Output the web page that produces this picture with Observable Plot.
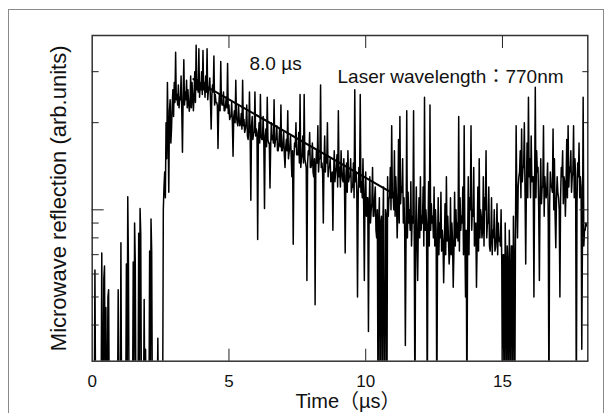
<!DOCTYPE html>
<html>
<head>
<meta charset="utf-8">
<script src="https://cdn.jsdelivr.net/npm/d3@7"></script>
<script src="https://cdn.jsdelivr.net/npm/@observablehq/plot@0.6"></script>
<style>
  html, body { margin: 0; padding: 0; background: #fff; }
  #wrap { position: relative; width: 614px; height: 413px; overflow: hidden; }
  #border { position: absolute; left: 8px; top: 9px; width: 596px; height: 420px; border: 1px solid #8a8a8a; box-sizing: border-box; }
  #chart { position: absolute; left: 0; top: 0; }
</style>
</head>
<body>
<div id="wrap"><div id="border"></div><div id="chart"></div></div>
<script>
// ---- data ----
const sampleInterval = 0.025; // µs between samples
// samples at t = k*0.05 µs
const reflectionEven = [
  0.2, 0.2, 0.62, 0.2, 0.2, 0.2, 0.2, 0.71, 0.2, 0.64,
  0.46, 0.2, 0.53, 0.2, 0.2, 0.2, 0.2, 0.2, 0.2, 0.53,
  0.2, 0.77, 0.2, 0.2, 0.2, 0.65, 1.11, 0.2, 0.2, 0.2,
  0.66, 0.90, 0.2, 0.2, 0.83, 1.01, 0.2, 0.2, 0.49, 0.33,
  0.2, 0.2, 0.72, 0.93, 0.2, 0.2, 0.2, 0.2, 0.36, 0.2,
  0.2, 0.2, 1.0, 1.35, 2.0, 2.75, 1.15, 2.4, 1.9, 2.6,
  2.75, 3.5, 2.5, 2.7, 2.45, 2.9, 1.58, 3.3, 2.55, 2.8,
  2.6, 2.19, 2.9, 2.75, 2.2, 3.0, 3.7, 2.8, 3.6, 2.7,
  3.0, 3.55, 2.75, 2.9, 3.6, 2.6, 2.85, 1.9, 2.7, 3.4,
  2.5, 2.35, 1.63, 2.5, 3.25, 2.3, 2.55, 2.2, 2.45, 3.2,
  2.3, 2.1, 2.35, 1.53, 2.2, 2.8, 2.0, 2.3, 1.95, 2.15,
  2.8, 2.05, 1.9, 2.3, 1.75, 2.55, 1.08, 2.1, 1.85, 2.55,
  1.9, 0.79, 2.0, 2.5, 1.75, 2.1, 1.01, 1.9, 2.45, 1.7,
  1.19, 2.0, 1.8, 2.4, 1.75, 1.95, 1.6, 1.9, 2.3, 1.6,
  1.85, 1.4, 1.75, 2.2, 1.58, 1.8, 1.3, 0.76, 1.7, 2.0,
  1.55, 1.85, 2.5, 1.5, 1.8, 2.5, 1.45, 0.57, 1.6, 1.85,
  1.4, 1.7, 1.3, 0.47, 1.6, 1.95, 1.5, 2.7, 1.45, 0.9,
  1.8, 1.55, 2.0, 1.4, 1.5, 1.3, 0.85, 1.6, 1.35, 1.55,
  2.2, 1.4, 1.6, 1.27, 1.5, 0.71, 1.45, 1.6, 1.3, 1.5,
  1.2, 1.45, 2.6, 1.35, 0.50, 1.4, 2.5, 1.25, 1.5, 0.57,
  1.35, 1.1, 0.38, 1.3, 1.0, 1.4, 0.95, 1.2, 0.8, 0.2,
  1.1, 0.9, 0.2, 1.2, 0.2, 0.95, 1.3, 1.1, 1.4, 1.95,
  1.15, 1.6, 1.3, 0.8, 1.75, 2.1, 1.2, 1.5, 1.1, 0.34,
  2.2, 1.15, 1.0, 1.25, 0.95, 2.2, 0.2, 1.2, 0.57, 1.1,
  1.3, 0.95, 1.2, 2.45, 1.0, 0.2, 1.25, 2.3, 1.05, 0.95,
  1.2, 1.0, 0.2, 1.1, 0.9, 1.15, 0.85, 0.56, 1.05, 1.3,
  0.95, 0.65, 1.1, 0.9, 0.54, 1.15, 1.0, 0.9, 2.1, 1.1,
  0.95, 1.2, 1.95, 0.5, 0.2, 1.3, 1.1, 1.95, 1.0, 1.4,
  0.85, 0.54, 1.2, 1.5, 1.0, 0.8, 1.3, 1.1, 1.6, 0.9,
  1.2, 0.72, 1.1, 0.85, 1.0, 0.74, 1.05, 0.9, 0.8, 1.0,
  0.2, 0.7, 0.9, 0.2, 0.65, 0.85, 0.2, 0.75, 0.95, 0.2,
  1.95, 0.8, 1.3, 1.6, 1.9, 1.4, 2.0, 0.65, 1.7, 2.45,
  1.5, 1.8, 1.3, 0.5, 2.65, 1.6, 1.4, 0.57, 1.5, 1.2,
  1.95, 1.3, 1.1, 1.45, 0.2, 1.35, 1.2, 1.9, 1.5, 0.74,
  1.3, 1.1, 0.5, 1.4, 1.6, 1.3, 0.95, 1.75, 1.95, 1.4,
  1.6, 1.3, 1.95, 1.5, 0.2, 1.45, 1.7, 1.3, 0.33, 2.45,
  0.85, 0.9
];
// samples at t = k*0.05 + 0.025 µs
const reflectionOdd = [
  0.2, 0.2, 0.2, 0.2, 0.2, 0.2, 0.2, 0.2, 0.58, 0.2,
  0.2, 0.5, 0.2, 0.2, 0.2, 0.2, 0.2, 0.2, 0.2, 0.2,
  0.2, 0.2, 0.2, 0.2, 0.2, 0.2, 0.65, 0.2, 0.2, 0.2,
  0.2, 0.66, 0.2, 0.2, 0.2, 0.83, 0.2, 0.2, 0.2, 0.2,
  0.2, 0.2, 0.2, 0.72, 0.2, 0.2, 0.2, 0.2, 0.2, 0.2,
  0.2, 0.2, 1.2, 1.1, 1.5, 1.9, 2.2, 1.7, 2.3, 2.1,
  2.35, 2.4, 2.3, 2.25, 2.4, 2.2, 2.45, 2.3, 2.4, 2.25,
  2.35, 2.3, 2.25, 2.45, 2.5, 2.35, 2.6, 2.55, 2.45, 2.6,
  2.5, 2.6, 2.45, 2.55, 2.4, 2.6, 2.35, 2.5, 2.55, 2.3,
  2.35, 2.3, 2.25, 2.2, 2.35, 2.3, 2.2, 2.3, 2.25, 2.15,
  2.05, 2.1, 2.0, 2.1, 2.0, 2.1, 1.95, 2.05, 2.0, 1.9,
  1.95, 1.85, 2.0, 1.8, 1.9, 1.8, 1.95, 1.75, 1.85, 1.8,
  1.85, 1.75, 1.7, 1.8, 1.75, 1.7, 1.8, 1.65, 1.75, 1.7,
  1.65, 1.75, 1.7, 1.65, 1.75, 1.6, 1.7, 1.65, 1.6, 1.7,
  1.55, 1.65, 1.6, 1.5, 1.65, 1.55, 1.6, 1.5, 1.65, 1.55,
  1.55, 1.45, 1.4, 1.55, 1.45, 1.5, 1.4, 1.45, 1.55, 1.4,
  1.45, 1.35, 1.5, 1.4, 1.45, 1.35, 1.5, 1.4, 1.35, 1.45,
  1.35, 1.45, 1.3, 1.4, 1.25, 1.35, 1.3, 1.25, 1.4, 1.2,
  1.3, 1.2, 1.35, 1.25, 1.2, 1.3, 1.15, 1.25, 1.3, 1.15,
  1.2, 1.1, 1.25, 1.15, 1.1, 1.2, 1.15, 1.1, 1.05, 1.15,
  0.95, 1.1, 1.0, 0.9, 1.05, 0.95, 1.1, 0.85, 1.0, 0.9,
  0.2, 0.95, 0.85, 0.2, 1.0, 0.2, 0.95, 1.1, 1.0, 1.1,
  1.0, 0.95, 1.1, 1.0, 0.9, 1.05, 1.15, 0.9, 0.85, 0.8,
  0.8, 0.9, 0.85, 0.75, 0.9, 0.8, 0.85, 0.75, 0.9, 0.8,
  0.85, 0.9, 0.75, 0.85, 0.9, 0.8, 0.75, 0.85, 0.9, 0.8,
  0.75, 0.85, 0.72, 0.7, 0.8, 0.72, 0.78, 0.75, 0.7, 0.78,
  0.8, 0.72, 0.7, 0.78, 0.72, 0.75, 0.8, 0.78, 0.72, 0.85,
  0.9, 0.7, 0.8, 0.85, 0.75, 0.7, 1.0, 0.85, 0.95, 0.75,
  0.9, 0.78, 0.72, 0.8, 0.95, 0.85, 0.75, 1.0, 0.8, 0.9,
  0.75, 0.8, 0.7, 0.8, 0.72, 0.8, 0.7, 0.78, 0.75, 0.65,
  0.7, 0.2, 0.62, 0.75, 0.2, 0.6, 0.75, 0.2, 0.65, 0.8,
  1.1, 1.2, 1.35, 1.1, 1.25, 1.4, 1.15, 1.2, 1.1, 1.3,
  1.1, 1.25, 1.3, 1.2, 1.1, 1.35, 1.0, 1.15, 1.05, 1.2,
  0.95, 1.15, 1.2, 0.9, 1.05, 1.2, 1.15, 1.0, 0.95, 1.1,
  1.15, 1.0, 1.1, 1.3, 1.05, 1.25, 1.2, 1.1, 1.2, 1.35,
  1.15, 1.35, 1.1, 1.3, 1.05, 1.3, 1.1, 1.2, 0.8, 0.75,
  0.85, 0.88
];
// exponential fit (τ = 8.0 µs): straight on the log axis, endpoints
const fitTime = [3.7, 10.85];
const fitValue = [2.83, 1.16];

const xTicks = [0, 5, 10, 15];
const xInnerTicks = [5, 10, 15];
const yMajorTicks = [1];
const yMinorTicks = [0.4, 0.5, 0.6, 0.7, 0.8, 0.9, 2, 3];
const xLabel = ["Time（µs）"];
const yLabel = ["Microwave reflection (arb.units)"];
const tauLabel = ["8.0 µs"];
const laserLabel = ["Laser wavelength：770nm"];

const trace = reflectionEven.flatMap((v, k) => [
  {t: (2 * k) * sampleInterval, v},
  {t: (2 * k + 1) * sampleInterval, v: reflectionOdd[k]}
]);
const fit = fitTime.map((t, i) => ({t, v: fitValue[i]}));

const font = "'Liberation Sans', Arial, 'Noto Sans CJK JP', sans-serif";
const ink = "#111";

const tickOpts = (anchor, ticks, size) => ({anchor, ticks, tickSize: size, fill: "none", stroke: "#222", strokeWidth: 1, label: null});

const chart = Plot.plot({
  width: 614,
  height: 413,
  marginLeft: 91.7,
  marginRight: 26.7,
  marginTop: 35,
  marginBottom: 52.3,
  x: {domain: [0, 18.12]},
  y: {type: "log", domain: [0.3, 4]},
  style: {fontFamily: font, background: "transparent", color: ink, overflow: "visible"},
  marks: [
    Plot.line(trace, {x: "t", y: "v", stroke: "#000", strokeWidth: 1.5, clip: true}),
    Plot.line(fit, {x: "t", y: "v", stroke: "#000", strokeWidth: 2}),
    Plot.frame({stroke: "#333", strokeWidth: 1.5}),
    Plot.axisX(xInnerTicks, tickOpts("bottom", xInnerTicks, -12)),
    Plot.axisX(xInnerTicks, tickOpts("top", xInnerTicks, -12)),
    Plot.axisY(yMajorTicks, tickOpts("left", yMajorTicks, -12)),
    Plot.axisY(yMinorTicks, tickOpts("left", yMinorTicks, -7)),
    Plot.axisY(yMajorTicks, tickOpts("right", yMajorTicks, -9)),
    Plot.axisY(yMinorTicks, tickOpts("right", yMinorTicks, -6)),
    Plot.axisX(xTicks, {anchor: "bottom", ticks: xTicks, tickSize: 0, tickPadding: 14, fontSize: 17, fill: ink, label: null}),
    Plot.text(xLabel, {text: d => d, frameAnchor: "bottom", dx: 8, dy: 40, textAnchor: "middle", lineAnchor: "middle", fontSize: 20, fill: ink}),
    Plot.text(yLabel, {text: d => d, frameAnchor: "left", dx: -33, rotate: -90, textAnchor: "middle", lineAnchor: "middle", fontSize: 22, fill: ink}),
    Plot.text(tauLabel, {text: d => d, frameAnchor: "top-left", dx: 157.3, dy: 34, textAnchor: "start", lineAnchor: "bottom", fontSize: 19, fill: ink}),
    Plot.text(laserLabel, {text: d => d, frameAnchor: "top-left", dx: 245.3, dy: 47.7, textAnchor: "start", lineAnchor: "bottom", fontSize: 19, fill: ink})
  ]
});
document.getElementById("chart").appendChild(chart);
</script>
</body>
</html>
